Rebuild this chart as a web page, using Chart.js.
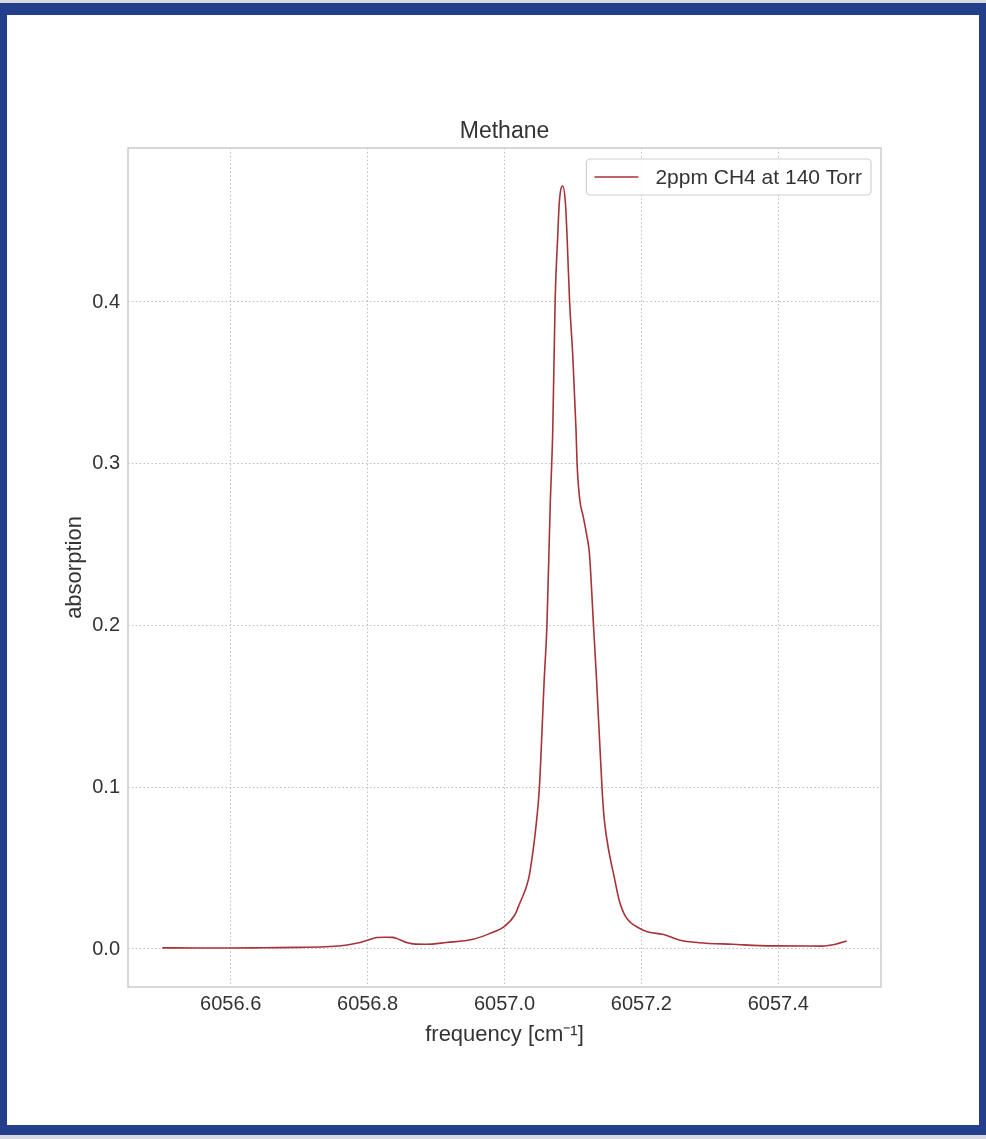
<!DOCTYPE html>
<html>
<head>
<meta charset="utf-8">
<title>Methane</title>
<script src="https://cdn.jsdelivr.net/npm/chart.js@4.4.1/dist/chart.umd.min.js"></script>
<style>
  html, body { margin: 0; padding: 0; background: #d6d9e0; }
  #frame {
    position: absolute; left: 0; top: 3px; width: 986px; height: 1132px;
    box-sizing: border-box; background: #fff;
    border-style: solid; border-color: #233e8b;
    border-width: 12px 7px 10px 7px;
  }
  #wrap { position: absolute; left: 0; top: 0; width: 986px; height: 1139px; }
</style>
</head>
<body>
<div id="frame"></div>
<div id="wrap"><canvas id="chart" width="986" height="1139"></canvas></div>
<script>
// spectrum
const freq = [
  6056.500, 6056.550, 6056.600, 6056.650, 6056.700, 6056.745, 6056.770, 6056.789,
  6056.803, 6056.813, 6056.825, 6056.837, 6056.847, 6056.858, 6056.870, 6056.885,
  6056.915, 6056.954, 6056.978, 6057.000, 6057.015, 6057.022, 6057.035, 6057.041,
  6057.047, 6057.051, 6057.058, 6057.062, 6057.067, 6057.069, 6057.0705, 6057.074,
  6057.0777, 6057.080, 6057.085, 6057.089, 6057.0914, 6057.095, 6057.0998, 6057.1045,
  6057.106, 6057.110, 6057.115, 6057.1205, 6057.124, 6057.130, 6057.1345, 6057.1424,
  6057.1458, 6057.153, 6057.160, 6057.1676, 6057.177, 6057.197, 6057.211, 6057.231,
  6057.255, 6057.284, 6057.333, 6057.391, 6057.464, 6057.4835, 6057.500
];
const absorption = [
  0.0007, 0.0006, 0.0006, 0.0008, 0.0010, 0.0015, 0.0025, 0.0040,
  0.0058, 0.0071, 0.0073, 0.0072, 0.0057, 0.0038, 0.0030, 0.0029,
  0.0040, 0.0060, 0.0095, 0.0140, 0.0210, 0.0280, 0.0430, 0.0585,
  0.0798, 0.1000, 0.1663, 0.2003, 0.2776, 0.3003, 0.3209, 0.4012,
  0.4404, 0.4612, 0.4717, 0.4612, 0.4404, 0.4012, 0.3662, 0.3209,
  0.3003, 0.2776, 0.2673, 0.2549, 0.2448, 0.2003, 0.1663, 0.1000,
  0.0798, 0.0592, 0.0450, 0.0300, 0.0200, 0.0128, 0.0103, 0.0091,
  0.0056, 0.0039, 0.0029, 0.0019, 0.0018, 0.0029, 0.0050
];
const xTicks = [6056.6, 6056.8, 6057.0, 6057.2, 6057.4];
const yTicks = [0.0, 0.1, 0.2, 0.3, 0.4];
const seriesLabel = "2ppm CH4 at 140 Torr";
const chartTitle = "Methane";
const xLabel = "frequency [cm\u207B\u00B9]";
const yLabel = "absorption";

const FONT = "'Liberation Sans', Arial, Helvetica, sans-serif";
const TEXT = "#333333";
const GRID = "#bdbdbd";
const LINE = "#a8323a";

// frame around the whole plot area (matplotlib draws all four spines)
const framePlugin = {
  id: "frame",
  beforeDatasetsDraw(chart) {
    const { ctx, chartArea: a } = chart;
    ctx.save();
    ctx.strokeStyle = "#cccccc";
    ctx.lineWidth = 1.5;
    ctx.strokeRect(a.left, a.top, a.right - a.left, a.bottom - a.top);
    ctx.restore();
  },
};

// legend box in the upper right corner, inside the axes
const boxLegend = {
  id: "boxLegend",
  afterDraw(chart) {
    const { ctx, chartArea: a } = chart;
    const ds = chart.data.datasets[0];
    ctx.save();
    ctx.font = `21px ${FONT}`;
    const tw = ctx.measureText(ds.label).width;
    const w = 8 + 44 + 17 + tw + 9;
    const h = 36;
    const x = a.right - 10 - w;
    const y = a.top + 11;
    ctx.beginPath();
    ctx.roundRect(x, y, w, h, 4);
    ctx.fillStyle = "rgba(255,255,255,0.85)";
    ctx.fill();
    ctx.strokeStyle = "#d0d0d0";
    ctx.lineWidth = 1.2;
    ctx.stroke();
    ctx.beginPath();
    ctx.moveTo(x + 8, y + h / 2);
    ctx.lineTo(x + 52, y + h / 2);
    ctx.strokeStyle = ds.borderColor;
    ctx.lineWidth = 1.5;
    ctx.stroke();
    ctx.fillStyle = TEXT;
    ctx.textBaseline = "middle";
    ctx.textAlign = "left";
    ctx.fillText(ds.label, x + 69, y + h / 2 + 1);
    ctx.restore();
  },
};

new Chart(document.getElementById("chart"), {
  type: "line",
  data: {
    datasets: [{
      label: seriesLabel,
      data: freq.map((f, i) => ({ x: f, y: absorption[i] })),
      borderColor: LINE,
      borderWidth: 1.6,
      pointRadius: 0,
      fill: false,
      cubicInterpolationMode: "monotone",
    }],
  },
  options: {
    responsive: false,
    animation: false,
    layout: { padding: { left: 0, right: 105, top: 0, bottom: 0 } },
    plugins: {
      legend: { display: false },
      tooltip: { enabled: false },
      title: {
        display: true,
        fullSize: false,
        text: chartTitle,
        color: TEXT,
        font: { family: FONT, size: 23, weight: "normal", lineHeight: 1.2 },
        padding: { top: 118, bottom: 2.4 },
      },
    },
    scales: {
      x: {
        type: "linear",
        min: 6056.45,
        max: 6057.55,
        afterBuildTicks: (s) => { s.ticks = xTicks.map(v => ({ value: v })); },
        afterFit: (s) => { s.height = 152; },
        grid: { color: GRID, lineWidth: 1, drawTicks: false },
        border: { display: false, dash: [1.5, 2.4] },
        ticks: {
          color: TEXT, padding: 5, maxRotation: 0,
          font: { family: FONT, size: 20 },
          callback: (v) => Number(v).toFixed(1),
        },
        title: {
          display: true, text: xLabel, color: TEXT,
          font: { family: FONT, size: 22, lineHeight: 1.2 },
          padding: { top: 4, bottom: 91 },
        },
      },
      y: {
        type: "linear",
        min: -0.0235,
        max: 0.4952,
        afterBuildTicks: (s) => { s.ticks = yTicks.map(v => ({ value: v })); },
        afterFit: (s) => { s.width = 128; },
        grid: { color: GRID, lineWidth: 1, drawTicks: false },
        border: { display: false, dash: [1.5, 2.4] },
        ticks: {
          color: TEXT, padding: 8,
          font: { family: FONT, size: 20 },
          callback: (v) => Number(v).toFixed(1),
        },
        title: {
          display: true, text: yLabel, color: TEXT,
          font: { family: FONT, size: 22, lineHeight: 1.2 },
          padding: { top: 62, bottom: 4 },
        },
      },
    },
  },
  plugins: [framePlugin, boxLegend],
});
</script>
</body>
</html>
